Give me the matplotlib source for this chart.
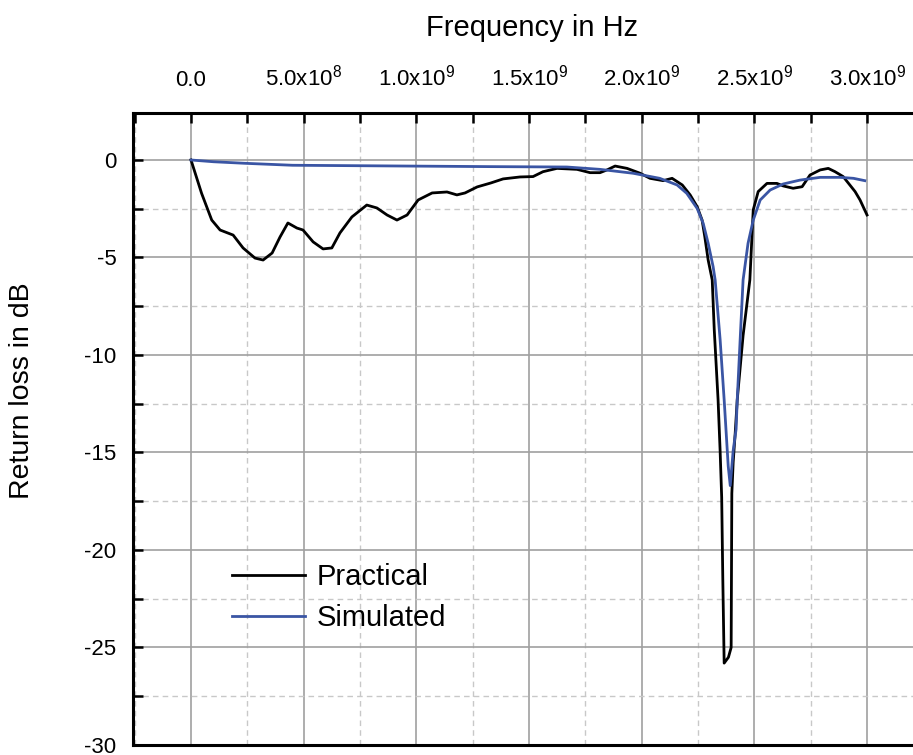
import matplotlib
matplotlib.use("Agg")
import numpy as np
import matplotlib.pyplot as plt
from matplotlib.ticker import MultipleLocator, FixedLocator

plt.rcParams['font.family'] = ['Liberation Sans', 'DejaVu Sans']
plt.rcParams['mathtext.default'] = 'regular'
plt.rcParams['axes.unicode_minus'] = False

# measured return loss (GHz, dB)
freq_prac = [0, 0.047, 0.092, 0.129, 0.187,
             0.231, 0.284, 0.32, 0.36, 0.395,
             0.43, 0.47, 0.497, 0.542, 0.586,
             0.625, 0.661, 0.714, 0.78, 0.825,
             0.87, 0.914, 0.959, 1.008, 1.07,
             1.136, 1.18, 1.216, 1.27, 1.33,
             1.385, 1.46, 1.518, 1.562, 1.624,
             1.713, 1.771, 1.815, 1.846, 1.882,
             1.935, 1.993, 2.037, 2.095, 2.135,
             2.18, 2.215, 2.246, 2.268, 2.28,
             2.295, 2.313, 2.322, 2.339, 2.348,
             2.355, 2.36, 2.366, 2.385, 2.397,
             2.4, 2.406, 2.415, 2.424, 2.45,
             2.48, 2.495, 2.517, 2.556, 2.6,
             2.628, 2.672, 2.712, 2.747, 2.792,
             2.828, 2.858, 2.894, 2.947, 2.969,
             3.0]
loss_prac = [0, -1.71, -3.08, -3.59, -3.85,
             -4.51, -5.03, -5.13, -4.77, -3.95,
             -3.23, -3.49, -3.59, -4.2, -4.56,
             -4.51, -3.74, -2.92, -2.31, -2.46,
             -2.82, -3.08, -2.82, -2.05, -1.69,
             -1.64, -1.79, -1.69, -1.38, -1.18,
             -0.97, -0.87, -0.85, -0.6, -0.43,
             -0.48, -0.65, -0.65, -0.51, -0.31,
             -0.43, -0.68, -0.94, -1.06, -0.94,
             -1.28, -1.79, -2.39, -3.08, -3.93,
             -5.13, -6.15, -8.7, -12.3, -14.9,
             -17.3, -21.5, -25.8, -25.5, -25.0,
             -17.1, -15.5, -14.0, -12.3, -9.0,
             -6.15, -2.56, -1.62, -1.2, -1.2,
             -1.33, -1.45, -1.37, -0.77, -0.51,
             -0.43, -0.6, -0.85, -1.62, -2.05,
             -2.82]

# simulated return loss (GHz, dB)
freq_sim = [0, 0.1, 0.24, 0.45, 1.33,
            1.668, 1.815, 1.962, 2.08, 2.157,
            2.2, 2.246, 2.273, 2.295, 2.317,
            2.326, 2.348, 2.366, 2.375, 2.384,
            2.393, 2.406, 2.419, 2.424, 2.437,
            2.45, 2.472, 2.495, 2.526, 2.57,
            2.628, 2.703, 2.792, 2.88, 2.94,
            2.99]
loss_sim = [0, -0.09, -0.17, -0.27, -0.34,
            -0.36, -0.48, -0.68, -0.94, -1.28,
            -1.71, -2.48, -3.25, -4.27, -5.47,
            -6.15, -9.2, -12.3, -14.0, -15.7,
            -16.7, -14.9, -13.8, -12.3, -9.2,
            -6.15, -4.27, -3.08, -2.05, -1.54,
            -1.23, -1.03, -0.89, -0.89, -0.94,
            -1.06]

xticks = [0, 0.5e9, 1.0e9, 1.5e9, 2.0e9, 2.5e9, 3.0e9]
xticklabels = ['0.0', r'5.0x$10^{8}$', r'1.0x$10^{9}$', r'1.5x$10^{9}$',
               r'2.0x$10^{9}$', r'2.5x$10^{9}$', r'3.0x$10^{9}$']
yticks = [0, -5, -10, -15, -20, -25, -30]

fig = plt.figure(figsize=(9.13, 7.55), dpi=100)
ax = fig.add_axes([133/913, 10/755, 780/913, 632/755])

ax.plot(np.array(freq_prac)*1e9, loss_prac, color='black', lw=2.0, label='Practical')
ax.plot(np.array(freq_sim)*1e9, loss_sim, color='#3a55a4', lw=2.0, label='Simulated')

ax.set_xlim(-2.574e8, 3.204e9)
ax.set_ylim(-30, 2.41)

ax.xaxis.set_major_locator(FixedLocator(xticks))
ax.xaxis.set_minor_locator(MultipleLocator(2.5e8))
ax.set_xticklabels(xticklabels)
ax.yaxis.set_major_locator(FixedLocator(yticks))
ax.yaxis.set_minor_locator(MultipleLocator(2.5))

ax.xaxis.tick_top()
ax.tick_params(axis='x', which='both', direction='in', length=7, width=1.8,
               labelsize=16, pad=16, top=True, bottom=False)
ax.tick_params(axis='y', which='both', direction='in', length=7, width=1.8,
               labelsize=16, pad=12, left=True, right=False)

ax.grid(which='major', color='#a0a0a0', lw=1.2, ls='-')
ax.grid(which='minor', color='#c8c8c8', lw=1.0, ls=(0, (4, 3)))
ax.set_axisbelow(True)

for side in ['top', 'left', 'bottom']:
    ax.spines[side].set_linewidth(2.2)
ax.spines['right'].set_visible(False)

fig.text(532/913, 1 - 28/755, 'Frequency in Hz', fontsize=21, ha='center', va='center')
fig.text(22/913, 1 - 391/755, 'Return loss in dB', fontsize=20.5, ha='center',
         va='center', rotation=90)

ax.legend(loc='upper left', bbox_to_anchor=(232/913, 1 - 563/755),
          bbox_transform=fig.transFigure, frameon=False, fontsize=21,
          handlelength=2.5, handletextpad=0.4, labelspacing=0.45,
          borderpad=0, borderaxespad=0)

fig.savefig('out.png', dpi=100)
